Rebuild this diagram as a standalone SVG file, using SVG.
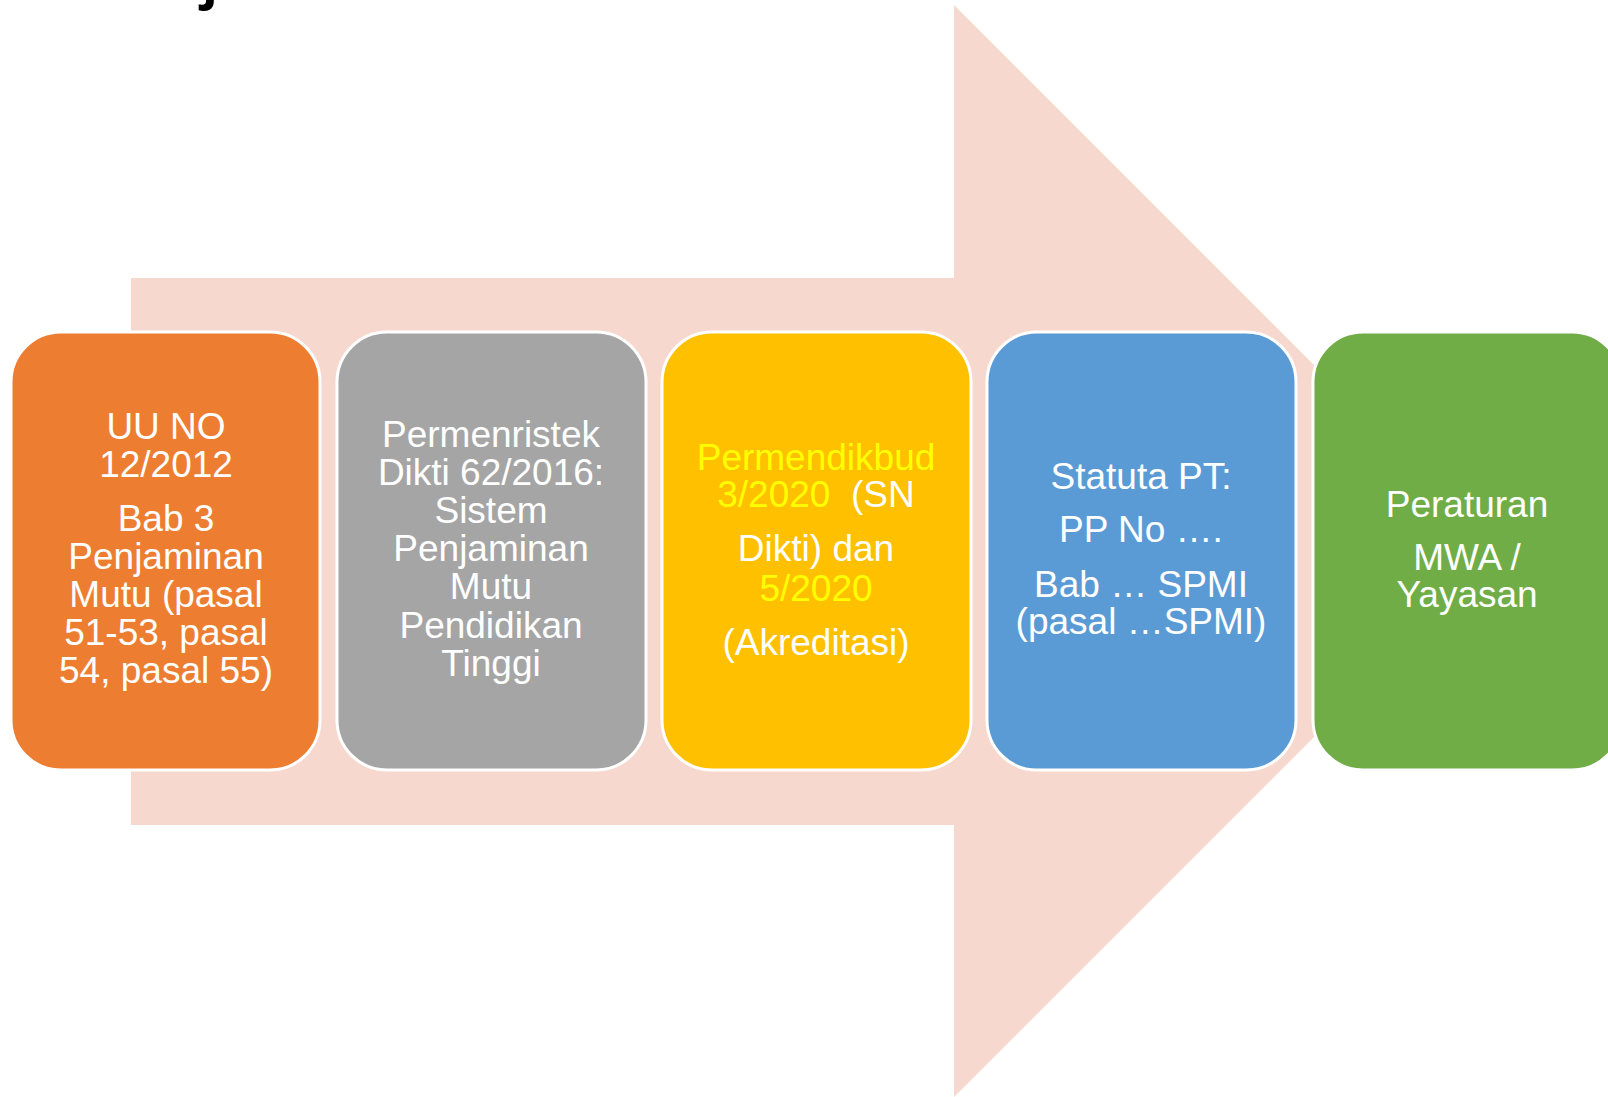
<svg xmlns="http://www.w3.org/2000/svg" width="1608" height="1097" viewBox="0 0 1608 1097">
<style>
.box{stroke:#FFFFFF;stroke-width:3}
.t{font-family:"Liberation Sans",Arial,sans-serif;font-size:37px;fill:#FFFFFF;text-anchor:middle}
.y{fill:#FFFF00}
</style>
<rect width="1608" height="1097" fill="#FFFFFF"/>
<text x="202" y="-2" font-family="'Open Sans',sans-serif" font-weight="bold" font-size="52" fill="#000000">j</text>
<g id="connectors">
<polygon points="131,278 954,278 954,5 1500,551 954,1097 954,825 131,825" fill="#F7D8CE"/>
</g>
<g id="node1">
<rect class="box" x="11" y="332" width="309" height="438" rx="50" fill="#ED7D31"/>
<text class="t" x="166" y="439">UU NO</text>
<text class="t" x="166" y="477">12/2012</text>
<text class="t" x="166" y="531">Bab 3</text>
<text class="t" x="166" y="569">Penjaminan</text>
<text class="t" x="166" y="607">Mutu (pasal</text>
<text class="t" x="166" y="645">51-53, pasal</text>
<text class="t" x="166" y="683">54, pasal 55)</text>
</g>
<g id="node2">
<rect class="box" x="337" y="332" width="309" height="438" rx="50" fill="#A5A5A5"/>
<text class="t" x="491" y="447">Permenristek</text>
<text class="t" x="491" y="485">Dikti 62/2016:</text>
<text class="t" x="491" y="523">Sistem</text>
<text class="t" x="491" y="561">Penjaminan</text>
<text class="t" x="491" y="599">Mutu</text>
<text class="t" x="491" y="638">Pendidikan</text>
<text class="t" x="491" y="676">Tinggi</text>
</g>
<g id="node3">
<rect class="box" x="662" y="332" width="309" height="438" rx="50" fill="#FFC000"/>
<text class="t y" x="816" y="470">Permendikbud</text>
<text class="t" x="816" y="507" xml:space="preserve"><tspan class="y">3/2020</tspan>  (SN</text>
<text class="t" x="816" y="561">Dikti) dan</text>
<text class="t y" x="816" y="601">5/2020</text>
<text class="t" x="816" y="655">(Akreditasi)</text>
</g>
<g id="node4">
<rect class="box" x="987" y="332" width="309" height="438" rx="50" fill="#5B9BD5"/>
<text class="t" x="1141" y="489">Statuta PT:</text>
<text class="t" x="1141" y="542">PP No ….</text>
<text class="t" x="1141" y="597">Bab … SPMI</text>
<text class="t" x="1141" y="634">(pasal …SPMI)</text>
</g>
<g id="node5">
<rect class="box" x="1313" y="332" width="309" height="438" rx="50" fill="#70AD47"/>
<text class="t" x="1467" y="517">Peraturan</text>
<text class="t" x="1467" y="570">MWA /</text>
<text class="t" x="1467" y="607">Yayasan</text>
</g>
</svg>
